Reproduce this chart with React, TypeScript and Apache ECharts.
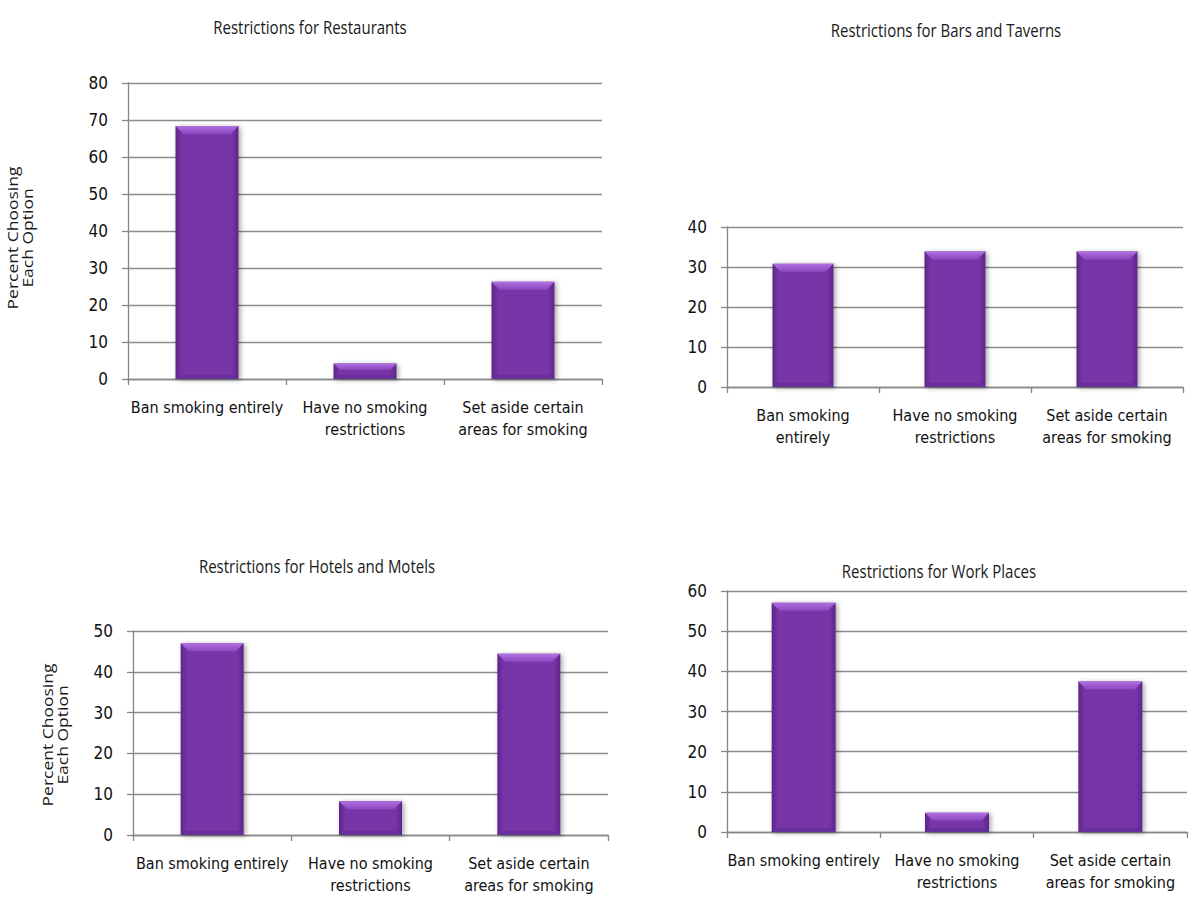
import React, { useEffect, useRef } from "react";
import * as echarts from "echarts";

const categoriesWide = ["Ban smoking entirely", "Have no smoking\nrestrictions", "Set aside certain\nareas for smoking"];
const categoriesNarrow = ["Ban smoking\nentirely", "Have no smoking\nrestrictions", "Set aside certain\nareas for smoking"];

const titles = [
  "Restrictions for Restaurants",
  "Restrictions for Bars and Taverns",
  "Restrictions for Hotels and Motels",
  "Restrictions for Work Places",
];

const restaurants = [68.4, 4.2, 26.3];
const barsTaverns = [30.8, 33.9, 33.9];
const hotelsMotels = [47.0, 8.3, 44.4];
const workPlaces = [57.1, 4.8, 37.5];

const yMax = [80, 40, 50, 60];
const yAxisTitle = "Percent Choosing\nEach Option";

const LABEL_FONT = "'DejaVu Sans Condensed', 'Liberation Sans Narrow', 'Roboto', sans-serif";
const TITLE_FONT = "'Open Sans', 'Liberation Sans', sans-serif";

const grids = [
  { left: 128, top: 83, width: 474, height: 296 },
  { left: 727, top: 227, width: 456, height: 160 },
  { left: 133, top: 631, width: 475, height: 204 },
  { left: 727, top: 591, width: 460, height: 241 },
];

const titlePos = [
  { x: 310, y: 27 },
  { x: 946, y: 30 },
  { x: 317, y: 566 },
  { x: 939, y: 571 },
];

const yTitlePos = [
  { x: 20, y: 238 },
  { x: 55, y: 735 },
];

function bevelBar(barW: number) {
  return (params: any, api: any) => {
    const idx = api.value(0);
    const v = api.value(1);
    const top = api.coord([idx, v]);
    const base = api.coord([idx, 0]);
    const x = top[0] - barW / 2;
    const y = top[1];
    const h = base[1] - top[1];
    const b = Math.min(8, h / 2.5);
    const bb = Math.min(4, h / 4);
    return {
      type: "group",
      children: [
        {
          type: "rect",
          shape: { x, y, width: barW, height: h },
          style: {
            fill: new echarts.graphic.LinearGradient(0, 0, 1, 0, [
              { offset: 0, color: "#5c2787" },
              { offset: 0.1, color: "#7734a7" },
              { offset: 0.9, color: "#7734a7" },
              { offset: 1, color: "#5c2787" },
            ]),
            shadowBlur: 5,
            shadowColor: "rgba(0,0,0,0.35)",
            shadowOffsetX: 2,
            shadowOffsetY: 1,
          },
        },
        {
          type: "polygon",
          shape: { points: [[x, y], [x + barW, y], [x + barW - b, y + b], [x + b, y + b]] },
          style: {
            fill: new echarts.graphic.LinearGradient(0, 0, 0, 1, [
              { offset: 0, color: "#b070e0" },
              { offset: 1, color: "#8d47c2" },
            ]),
          },
        },
        {
          type: "polygon",
          shape: { points: [[x, y + h], [x + barW, y + h], [x + barW - bb, y + h - bb], [x + bb, y + h - bb]] },
          style: { fill: "#66309a" },
        },
      ],
    };
  };
}

const dataSets = [restaurants, barsTaverns, hotelsMotels, workPlaces];
const catSets = [categoriesWide, categoriesNarrow, categoriesWide, categoriesWide];
const barWidths = [63, 61, 63, 64];

export default function App() {
  const ref = useRef<HTMLDivElement>(null);
  useEffect(() => {
    if (!ref.current) return;
    const chart = echarts.init(ref.current, null, { renderer: "svg" });
    const titleGraphics = titles.map((t, i) => ({
      type: "text",
      x: titlePos[i].x,
      y: titlePos[i].y,
      scaleY: 1.25,
      style: {
        text: t,
        fontFamily: TITLE_FONT,
        fontSize: 15,
        fill: "#1a1a1a",
        align: "center",
        verticalAlign: "middle",
      },
    }));
    const yTitleGraphics = yTitlePos.map((p) => ({
      type: "text",
      x: p.x,
      y: p.y,
      rotation: Math.PI / 2,
      scaleX: 1.25,
      style: {
        text: yAxisTitle,
        fontFamily: TITLE_FONT,
        fontSize: 14,
        fill: "#1a1a1a",
        align: "center",
        verticalAlign: "middle",
        lineHeight: 15,
      },
    }));
    const option: any = {
      animation: false,
      backgroundColor: "#ffffff",
      grid: grids.map((g) => ({ ...g, containLabel: false })),
      xAxis: grids.map((_, i) => ({
        type: "category",
        gridIndex: i,
        data: catSets[i],
        axisLine: { lineStyle: { color: "#868686", width: 1.3 } },
        axisTick: { show: true, length: 6, lineStyle: { color: "#868686", width: 1.3 } },
        axisLabel: {
          fontFamily: LABEL_FONT,
          fontSize: 16,
          color: "#111",
          margin: 17,
          lineHeight: 22,
          interval: 0,
        },
      })),
      yAxis: grids.map((_, i) => ({
        type: "value",
        gridIndex: i,
        min: 0,
        max: yMax[i],
        interval: 10,
        axisLine: { show: true, lineStyle: { color: "#868686", width: 1.3 } },
        axisTick: { show: true, length: 6, lineStyle: { color: "#868686", width: 1.3 } },
        splitLine: { show: true, lineStyle: { color: "#8c8c8c", width: 1.3 } },
        axisLabel: { fontFamily: LABEL_FONT, fontSize: 17, color: "#111", margin: 20 },
      })),
      series: dataSets.map((d, i) => ({
        type: "custom",
        xAxisIndex: i,
        yAxisIndex: i,
        data: d.map((v, j) => [j, v]),
        renderItem: bevelBar(barWidths[i]),
        encode: { x: 0, y: 1 },
      })),
      graphic: [...titleGraphics, ...yTitleGraphics],
    };
    chart.setOption(option);
    return () => chart.dispose();
  }, []);
  return (
    <div
      ref={ref}
      style={{ position: "fixed", left: 0, top: 0, width: 1192, height: 903, background: "#fff" }}
    />
  );
}
